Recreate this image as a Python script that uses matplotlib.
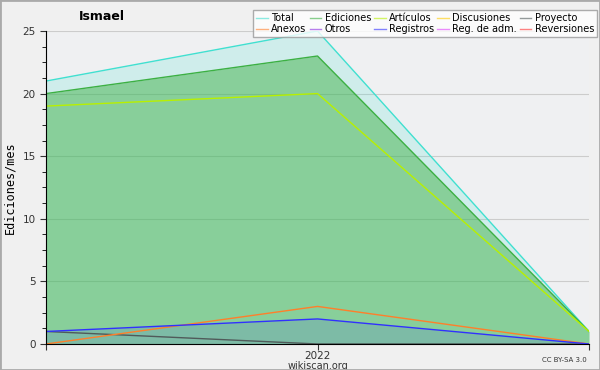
import matplotlib
matplotlib.use('Agg')
import matplotlib.pyplot as plt
from matplotlib.ticker import MultipleLocator

# three months around 2022
x = [0, 1, 2]
x_labels = ['', '2022', '']

total = [21, 25, 1]
ediciones = [20, 23, 1]
articulos = [19, 20, 1]
anexos = [0, 3, 0]
registros = [1, 2, 0]
proyecto = [1, 0, 0]

series_names = ['Total', 'Anexos', 'Ediciones', 'Otros', 'Artículos', 'Registros',
                'Discusiones', 'Reg. de adm.', 'Proyecto', 'Reversiones']
series_colors = ['#40e0d0', '#ff7f2a', '#3cb043', '#8a2be2', '#b8f000', '#3030ff',
                 '#ffcc00', '#e040fb', '#505a5a', '#ff3030']
col = dict(zip(series_names, series_colors))

fig = plt.figure(figsize=(6, 3.7), dpi=100, facecolor='#f0f0f0')
ax = fig.add_axes([0.0767, 0.0703, 0.905, 0.846])
ax.set_facecolor('#eff0f2')

ax.fill_between(x, total, color='#40e0d0', alpha=0.18, lw=0)
ax.fill_between(x, ediciones, color='#3cb043', alpha=0.48, lw=0)
ax.fill_between(x, registros, color='#3030ff', alpha=0.12, lw=0)

ax.plot(x, total, color=col['Total'], lw=1)
ax.plot(x, ediciones, color=col['Ediciones'], lw=1)
ax.plot(x, articulos, color=col['Artículos'], lw=1)
ax.plot(x, proyecto, color=col['Proyecto'], lw=1)
ax.plot(x, anexos, color=col['Anexos'], lw=1)
ax.plot(x, registros, color=col['Registros'], lw=1)

ax.set_xlim(0, 2)
ax.set_ylim(0, 25)
ax.set_xticks(x)
ax.set_xticklabels(x_labels)
ax.yaxis.set_major_locator(MultipleLocator(5))
ax.yaxis.set_minor_locator(MultipleLocator(1.25))
ax.grid(axis='y', color='#cccccc', lw=0.8)
ax.set_axisbelow(True)
for s in ['top', 'right']:
    ax.spines[s].set_visible(False)
ax.tick_params(axis='both', labelsize=7.5, colors='#333333', length=4, direction='out')
ax.tick_params(axis='x', pad=1)
ax.tick_params(axis='y', which='minor', length=3)
ax.set_ylabel('Ediciones/mes', family='DejaVu Sans Mono', fontsize=8.5)
ax.set_xlabel('wikiscan.org', fontsize=7, labelpad=0, color='#333333')

fig.text(0.17, 0.955, 'Ismael', fontsize=9, weight='bold', ha='center', va='center')
fig.text(0.978, 0.02, 'CC BY-SA 3.0', fontsize=5, ha='right', va='bottom', color='#333333')

handles = [plt.Line2D([], [], color=c, lw=1, alpha=0.6) for c in series_colors]
leg = fig.legend(handles, series_names, ncol=5, loc='upper right',
                 bbox_to_anchor=(0.995, 0.973), fontsize=7, frameon=True,
                 fancybox=False, edgecolor='#999999', handlelength=1.2,
                 handletextpad=0.35, columnspacing=0.3, labelspacing=0.15,
                 borderpad=0.3, borderaxespad=0)
leg.get_frame().set_linewidth(1)

border = plt.Rectangle((0, 0), 1, 1, transform=fig.transFigure, fill=False,
                       edgecolor='#aaaaaa', lw=2)
fig.patches.append(border)

fig.savefig('out.png', dpi=100, facecolor=fig.get_facecolor())
